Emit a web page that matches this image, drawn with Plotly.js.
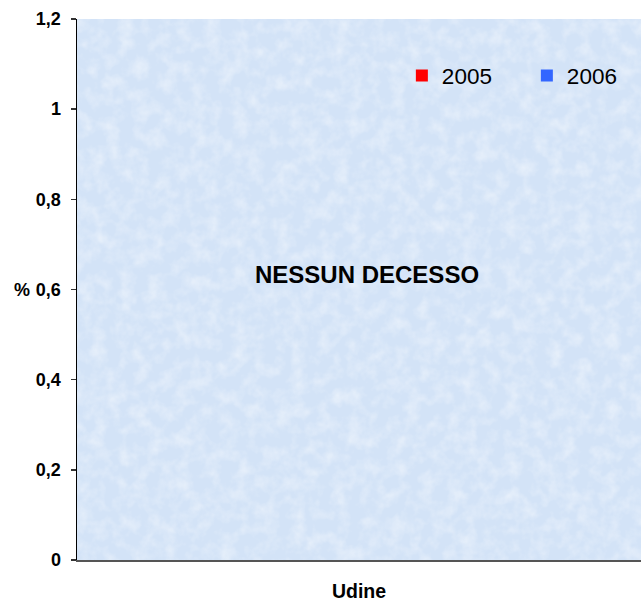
<!DOCTYPE html>
<html>
<head>
<meta charset="utf-8">
<script src="https://cdn.plot.ly/plotly-3.0.1.min.js"></script>
<style>html,body{margin:0;padding:0;background:#fff;}#chart{width:641px;height:601px;}</style>
</head>
<body>
<div id="chart"></div>
<script>
const categories = ["Udine"];
const seriesNames = ["2005", "2006"];
const values2005 = [0];
const values2006 = [0];
const yTickVals = [0, 0.2, 0.4, 0.6, 0.8, 1, 1.2];
const yTickText = ["0", "0,2", "0,4", "0,6", "0,8", "1", "1,2"];
const noteText = "NESSUN DECESSO";
const unitLabel = "%";

const font = "Liberation Sans, Arial, sans-serif";

// decorative paper-like texture for the plot background
const textureSvg = "<svg xmlns='http://www.w3.org/2000/svg' width='564' height='541'>" +
  "<filter id='f'><feTurbulence type='fractalNoise' baseFrequency='0.07' numOctaves='3' seed='4'/>" +
  "<feColorMatrix values='0 0 0 0 1  0 0 0 0 1  0 0 0 0 1  1.4 0 0 0 -0.55'/></filter>" +
  "<rect width='100%' height='100%' filter='url(#f)' opacity='0.6'/></svg>";

const traces = [
  {type: "bar", name: seriesNames[0], x: categories, y: values2005, marker: {color: "#ff0000", line: {width: 0}}},
  {type: "bar", name: seriesNames[1], x: categories, y: values2006, marker: {color: "#3366ff", line: {width: 0}}}
];
const layout = {
  width: 641, height: 601,
  margin: {l: 77, r: 0, t: 19, b: 41, pad: 0, autoexpand: false},
  paper_bgcolor: "#ffffff",
  plot_bgcolor: "#d3e3f7",
  showlegend: true,
  legend: {
    orientation: "h", x: 0.576, y: 0.895, xanchor: "left", yanchor: "middle",
    bgcolor: "rgba(0,0,0,0)", font: {family: font, size: 22.5, color: "#000"},
    entrywidth: 80, entrywidthmode: "pixels", itemclick: false
  },
  images: [{
    source: "data:image/svg+xml;charset=utf-8," + encodeURIComponent(textureSvg),
    xref: "paper", yref: "paper", x: 0, y: 1, sizex: 1, sizey: 1,
    sizing: "stretch", xanchor: "left", yanchor: "top", layer: "below"
  }],
  xaxis: {
    type: "category", showgrid: false, zeroline: false, ticks: "",
    showline: true, linecolor: "#555", linewidth: 1.5,
    tickfont: {family: font, size: 19.5, color: "#000", weight: "bold"},
    ticklabelstandoff: 13
  },
  yaxis: {
    range: [0, 1.2], tickmode: "array", tickvals: yTickVals, ticktext: yTickText,
    showgrid: false, zeroline: false, showline: true, linecolor: "#000", linewidth: 1.5,
    ticks: "outside", ticklen: 5, tickcolor: "#333", tickwidth: 1.5,
    tickfont: {family: font, size: 18, color: "#000", weight: "bold"},
    ticklabelstandoff: 6
  },
  annotations: [
    {text: "<b>" + noteText + "</b>", xref: "paper", yref: "paper", x: 0.5, y: 0.527, xshift: 8, showarrow: false,
     font: {family: font, size: 24, color: "#000"}, xanchor: "center", yanchor: "middle"},
    {text: "<b>" + unitLabel + "</b>", xref: "paper", yref: "y", x: 0, y: 0.6, xshift: -65, showarrow: false,
     font: {family: font, size: 18, color: "#000"}, xanchor: "left", yanchor: "middle"}
  ]
};
Plotly.newPlot("chart", traces, layout, {displayModeBar: false, staticPlot: true});
</script>
</body>
</html>
